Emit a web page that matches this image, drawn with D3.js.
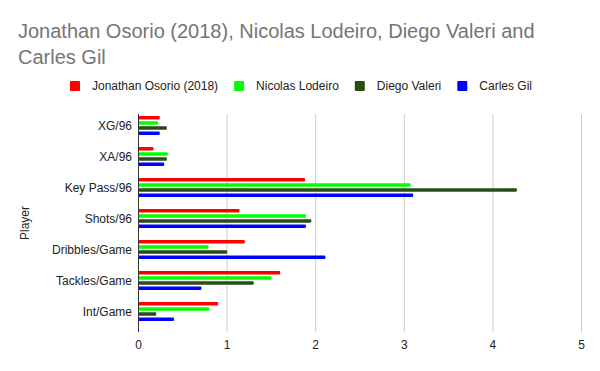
<!DOCTYPE html>
<html>
<head>
<meta charset="utf-8">
<script src="https://cdn.jsdelivr.net/npm/d3@7"></script>
<style>
  body { margin: 0; background: #fff; }
  svg { display: block; font-family: "Liberation Sans", Arial, sans-serif; }
</style>
</head>
<body>
<svg id="chart" width="600" height="371"></svg>
<script>
var categories = ["XG/96", "XA/96", "Key Pass/96", "Shots/96", "Dribbles/Game", "Tackles/Game", "Int/Game"];
var seriesNames = ["Jonathan Osorio (2018)", "Nicolas Lodeiro", "Diego Valeri", "Carles Gil"];
var seriesColors = ["#ff0000", "#00ff00", "#274e13", "#0000ff"];
var osorio  = [0.24, 0.17, 1.88, 1.14, 1.20, 1.60, 0.90];
var lodeiro = [0.22, 0.33, 3.07, 1.89, 0.79, 1.50, 0.80];
var valeri  = [0.32, 0.32, 4.27, 1.95, 1.00, 1.30, 0.20];
var gil     = [0.24, 0.29, 3.10, 1.89, 2.11, 0.71, 0.40];
var xTicks = [0, 1, 2, 3, 4, 5];

var seriesValues = [osorio, lodeiro, valeri, gil];
var svg = d3.select("#chart");

var x = d3.scaleLinear().domain([0, 5]).range([138.5, 581.5]);
var y = d3.scaleBand().domain(categories).range([110, 327]);
var yInner = d3.scaleBand().domain(d3.range(seriesNames.length)).range([-9.5, 9.5]).paddingInner(0.3);

// title
var title = svg.append("text")
	.attr("x", 18)
	.attr("fill", "#757575")
	.attr("font-size", 20);
title.append("tspan").attr("x", 18).attr("y", 38).text("Jonathan Osorio (2018), Nicolas Lodeiro, Diego Valeri and");
title.append("tspan").attr("x", 18).attr("y", 64).text("Carles Gil");

// legend
var legend = svg.append("g");
var lx = 0;
seriesNames.forEach(function(name, i){
	var g = legend.append("g").attr("transform", "translate(" + lx + ",0)");
	g.append("rect").attr("x", 0).attr("y", 81).attr("width", 10).attr("height", 10)
		.attr("rx", 1).attr("fill", seriesColors[i]);
	var t = g.append("text").attr("x", 22).attr("y", 90).attr("font-size", 12)
		.attr("fill", "#222").text(name);
	lx += 22 + t.node().getComputedTextLength() + 16;
});
var legendWidth = lx - 16;
legend.attr("transform", "translate(" + (301 - legendWidth / 2) + ",0)");

// gridlines
svg.append("g")
	.selectAll("line")
	.data(xTicks.slice(1))
	.enter()
		.append("line")
		.attr("x1", function(d){ return x(d); })
		.attr("x2", function(d){ return x(d); })
		.attr("y1", 114)
		.attr("y2", 332)
		.attr("stroke", "#cccccc")
		.attr("stroke-width", 1);

// x tick labels
svg.append("g")
	.selectAll("text")
	.data(xTicks)
	.enter()
		.append("text")
		.attr("x", function(d){ return x(d); })
		.attr("y", 349)
		.attr("text-anchor", "middle")
		.attr("font-size", 12)
		.attr("fill", "#222")
		.text(function(d){ return d; });

// bars
categories.forEach(function(cat, ci){
	var cy = y(cat) + y.bandwidth() / 2;
	svg.append("g")
		.selectAll("rect")
		.data(seriesValues.map(function(v, si){ return { si: si, value: v[ci] }; }))
		.enter()
			.append("rect")
			.attr("x", x(0))
			.attr("y", function(d){ return cy + yInner(d.si); })
			.attr("width", function(d){ return x(d.value) - x(0); })
			.attr("height", yInner.bandwidth())
			.attr("rx", 1)
			.attr("fill", function(d){ return seriesColors[d.si]; });
});

// baseline axis
svg.append("line")
	.attr("x1", x(0)).attr("x2", x(0))
	.attr("y1", 114).attr("y2", 332)
	.attr("stroke", "#333")
	.attr("stroke-width", 1);

// category labels
svg.append("g")
	.selectAll("text")
	.data(categories)
	.enter()
		.append("text")
		.attr("x", 132)
		.attr("y", function(d){ return y(d) + y.bandwidth() / 2 + 4.5; })
		.attr("text-anchor", "end")
		.attr("font-size", 12)
		.attr("fill", "#222")
		.text(function(d){ return d; });

// axis title
svg.append("text")
	.attr("transform", "translate(29,223) rotate(-90)")
	.attr("text-anchor", "middle")
	.attr("font-size", 12)
	.attr("fill", "#222")
	.text("Player");
</script>
</body>
</html>
